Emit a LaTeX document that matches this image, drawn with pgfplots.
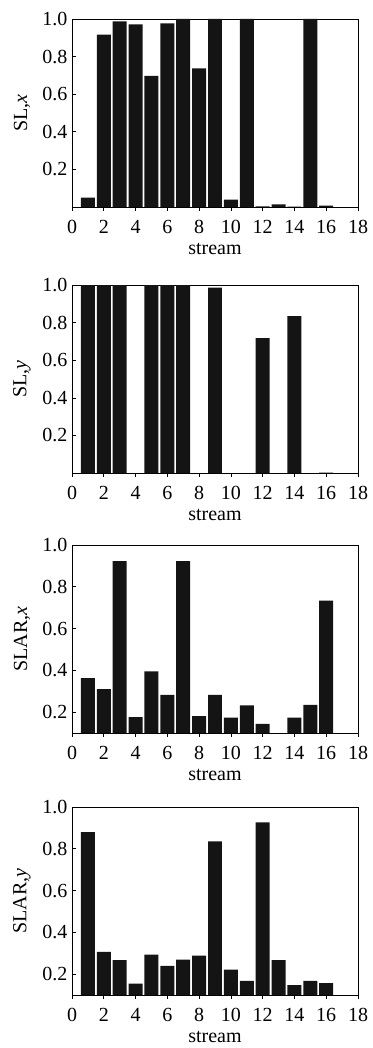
\documentclass[border=0pt]{standalone}
\usepackage{pgfplots}
\usepackage{pgfplotstable}
\pgfplotsset{compat=1.18}
\usepackage{fontspec}
\setmainfont{Liberation Serif}
\pgfplotstableread{
s v
1 0.050
2 0.917
3 0.988
4 0.972
5 0.697
6 0.977
7 1.000
8 0.738
9 1.000
10 0.039
11 1.000
12 0.003
13 0.014
14 0.002
15 1.000
16 0.007
}\slx
\pgfplotstableread{
s v
1 1.000
2 1.000
3 1.000
4 0
5 1.000
6 1.000
7 1.000
8 0
9 0.986
10 0
11 0
12 0.718
13 0
14 0.835
15 0
16 0.002
}\sly
\pgfplotstableread{
s v
1 0.363
2 0.310
3 0.923
4 0.176
5 0.395
6 0.282
7 0.923
8 0.181
9 0.282
10 0.174
11 0.232
12 0.144
13 0.100
14 0.174
15 0.235
16 0.734
}\slarx
\pgfplotstableread{
s v
1 0.880
2 0.307
3 0.267
4 0.155
5 0.293
6 0.240
7 0.270
8 0.288
9 0.835
10 0.221
11 0.168
12 0.926
13 0.267
14 0.147
15 0.168
16 0.157
}\slary
\pgfplotsset{
 panel/.style={
  scale only axis, width=286pt, height=188pt,
  anchor=south west,
  xmin=0, xmax=18, xtick={0,2,4,6,8,10,12,14,16,18},
  ytick={0.2,0.4,0.6,0.8,1.0}, ymax=1,
  tick align=inside, tick pos=left,
  major tick length=4pt,
  ybar, bar width=0.88,
  axis line style={line width=0.8pt},
  every tick/.style={black, line width=0.6pt},
  every tick label/.append style={font=\fontsize{20}{20}\selectfont},
  label style={font=\fontsize{20}{20}\selectfont},
  /pgf/number format/assume math mode=true,
  yticklabel style={/pgf/number format/fixed,/pgf/number format/fixed zerofill,/pgf/number format/precision=1, xshift=-1pt},
  xticklabel style={yshift=-6pt},
  xlabel={stream},
  xlabel style={at={(axis description cs:0.5,0)}, anchor=center, yshift=-42pt},
  ylabel style={at={(axis description cs:-0.175,0.5)}, anchor=center},
 },
 bars/.style={fill=black!92, draw=none},
}
\begin{document}
\begin{tikzpicture}
\path[use as bounding box] (0,0) rectangle (372pt,-1048pt);
\begin{axis}[panel, at={(72pt,-207pt)}, ymin=0, ylabel={SL,\textit{x}}]
\addplot[bars] table[x=s,y=v]{\slx};
\end{axis}
\begin{axis}[panel, at={(72pt,-473pt)}, ymin=0, ylabel={SL,\textit{y}}]
\addplot[bars] table[x=s,y=v]{\sly};
\end{axis}
\begin{axis}[panel, at={(72pt,-733pt)}, ymin=0.1, ylabel={SLAR,\textit{x}}]
\addplot[bars] table[x=s,y=v]{\slarx};
\end{axis}
\begin{axis}[panel, at={(72pt,-995pt)}, ymin=0.1, ylabel={SLAR,\textit{y}}]
\addplot[bars] table[x=s,y=v]{\slary};
\end{axis}
\end{tikzpicture}
\end{document}
